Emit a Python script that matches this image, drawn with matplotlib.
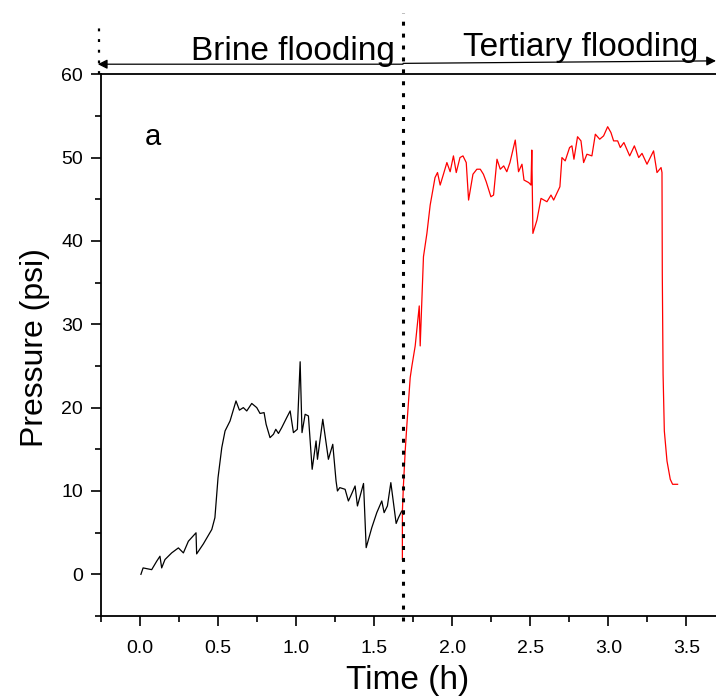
"""
    Pressure history during brine and tertiary flooding (panel a)
"""
import matplotlib
matplotlib.use("Agg")
import matplotlib.pyplot as plt
from matplotlib.ticker import MultipleLocator
import numpy as np

plt.rcParams['font.family'] = ['Liberation Sans', 'DejaVu Sans']

# Brine flooding (black trace), time in h, pressure in psi
brine_t = [0.006, 0.02, 0.075, 0.107, 0.128, 0.139, 0.16, 0.203, 0.246, 0.278,
           0.31, 0.359, 0.363, 0.406, 0.46, 0.48, 0.50, 0.524, 0.545, 0.577,
           0.615, 0.637, 0.662, 0.684, 0.716, 0.748, 0.769, 0.795, 0.808, 0.833,
           0.855, 0.87, 0.887, 0.908, 0.94, 0.962, 0.983, 1.008, 1.026, 1.038,
           1.058, 1.079, 1.103, 1.128, 1.137, 1.171, 1.207, 1.235, 1.256, 1.265,
           1.28, 1.314, 1.335, 1.35, 1.378, 1.393, 1.432, 1.449, 1.485, 1.517,
           1.549, 1.564, 1.585, 1.607, 1.641, 1.656, 1.677, 1.69]
brine_p = [0.0, 0.77, 0.56, 1.57, 2.17, 0.77, 1.77, 2.57, 3.17, 2.57,
           3.97, 4.98, 2.45, 3.65, 5.38, 6.8, 11.6, 15.2, 17.2, 18.4,
           20.8, 19.7, 20.0, 19.6, 20.5, 20.0, 19.3, 19.4, 18.0, 16.4,
           16.8, 17.4, 16.9, 17.6, 18.8, 19.6, 17.0, 17.4, 25.5, 17.0,
           19.2, 19.0, 12.6, 16.0, 13.8, 18.6, 13.8, 15.6, 11.2, 10.0,
           10.4, 10.2, 8.8, 9.4, 10.6, 8.2, 10.9, 3.2, 5.6, 7.4,
           8.8, 7.4, 8.2, 11.0, 6.1, 6.8, 7.6, 7.2]

# Tertiary flooding (red trace)
tert_t = [1.681, 1.681, 1.688, 1.699, 1.71, 1.731, 1.742, 1.763, 1.789, 1.795,
          1.816, 1.838, 1.859, 1.876, 1.89, 1.906, 1.923, 1.944, 1.966, 1.987,
          2.008, 2.026, 2.05, 2.069, 2.09, 2.105, 2.133, 2.158, 2.18, 2.20,
          2.218, 2.248, 2.265, 2.287, 2.308, 2.33, 2.35, 2.37, 2.404, 2.425,
          2.447, 2.46, 2.49, 2.505, 2.51, 2.517, 2.543, 2.569, 2.607, 2.633,
          2.65, 2.69, 2.703, 2.724, 2.752, 2.767, 2.78, 2.803, 2.825, 2.842,
          2.863, 2.895, 2.917, 2.945, 2.97, 2.996, 3.017, 3.034, 3.06, 3.077,
          3.10, 3.137, 3.167, 3.195, 3.216, 3.248, 3.29, 3.312, 3.338, 3.344,
          3.346, 3.351, 3.359, 3.376, 3.397, 3.412, 3.444]
tert_p = [1.8, 7.6, 10.8, 14.8, 18.0, 23.6, 25.0, 27.4, 32.2, 27.4,
          38.1, 40.9, 44.3, 46.1, 47.6, 48.2, 46.7, 48.0, 49.4, 48.3,
          50.2, 48.2, 50.0, 50.2, 49.4, 44.9, 48.0, 48.6, 48.6, 48.0,
          47.1, 45.3, 45.5, 49.8, 48.6, 49.0, 48.3, 49.4, 52.1, 48.3,
          49.2, 47.3, 47.0, 46.7, 50.9, 40.9, 42.5, 45.1, 44.7, 45.5,
          44.9, 46.5, 50.0, 49.6, 51.2, 51.4, 49.8, 52.5, 52.0, 49.4,
          50.4, 50.2, 52.8, 52.2, 52.6, 53.7, 53.0, 52.0, 52.0, 51.2,
          51.8, 50.2, 51.4, 50.0, 50.5, 49.2, 50.8, 48.2, 48.8, 48.2,
          36.0, 24.0, 17.2, 13.6, 11.4, 10.8, 10.8]

switch_t = 1.685
x_ticks = [0.0, 0.5, 1.0, 1.5, 2.0, 2.5, 3.0, 3.5]
y_ticks = [0, 10, 20, 30, 40, 50, 60]


def main():
    fig = plt.figure(figsize=(7.16, 7.0), dpi=100)
    ax = fig.add_axes([0.141, 0.12, 0.859, 0.774])

    ax.plot(brine_t, brine_p, color='black', lw=0.9)
    ax.plot(tert_t, tert_p, color='#ff0000', lw=0.9)

    ax.set_xlim(-0.25, 3.69)
    ax.set_ylim(-5, 60)
    ax.set_xticks(x_ticks)
    ax.set_yticks(y_ticks)
    ax.xaxis.set_minor_locator(MultipleLocator(0.25))
    ax.yaxis.set_minor_locator(MultipleLocator(5))
    ax.xaxis.set_major_formatter(plt.FuncFormatter(lambda v, p: "%.1f" % v))

    ax.tick_params(which='major', direction='out', length=7, width=1.2, labelsize=14)
    ax.tick_params(which='minor', direction='out', length=4.5, width=1.2)
    ax.tick_params(axis='x', pad=10)
    ax.tick_params(axis='y', pad=6)

    for s in ['left', 'bottom', 'top']:
        ax.spines[s].set_linewidth(1.3)
    ax.spines['right'].set_visible(False)

    ax.set_xlabel('Time (h)', fontsize=24)
    ax.set_ylabel('Pressure (psi)', fontsize=23)
    ax.xaxis.set_label_coords(0.499, -0.09)
    ax.yaxis.set_label_coords(-0.083, 0.496)

    # separation line between the two flooding stages
    ax.plot([switch_t, switch_t], [-5.6, 67.3], color='black', lw=2.2,
            linestyle=(0, (1.3, 2.6)), dash_capstyle='butt', clip_on=False)
    ax.plot([-0.262, -0.262], [60, 65.8], color='black', lw=1.6,
            linestyle=(0, (1.3, 3.5)), dash_capstyle='butt', clip_on=False)

    # stage arrows
    ax.annotate('', xy=(-0.27, 61.2), xytext=(switch_t, 61.2),
                arrowprops=dict(arrowstyle='-|>', color='black', lw=0.9,
                                mutation_scale=14, shrinkA=0, shrinkB=0),
                annotation_clip=False)
    ax.annotate('', xy=(3.69, 61.6), xytext=(switch_t, 61.3),
                arrowprops=dict(arrowstyle='-|>', color='black', lw=0.9,
                                mutation_scale=14, shrinkA=0, shrinkB=0),
                annotation_clip=False)

    ax.text(0.98, 61.7, 'Brine flooding', fontsize=24, ha='center', va='baseline')
    ax.text(2.82, 62.2, 'Tertiary flooding', fontsize=24, ha='center', va='baseline')
    ax.text(0.03, 51.5, 'a', fontsize=21, ha='left', va='baseline')

    fig.savefig('out.png', dpi=100)


main()
